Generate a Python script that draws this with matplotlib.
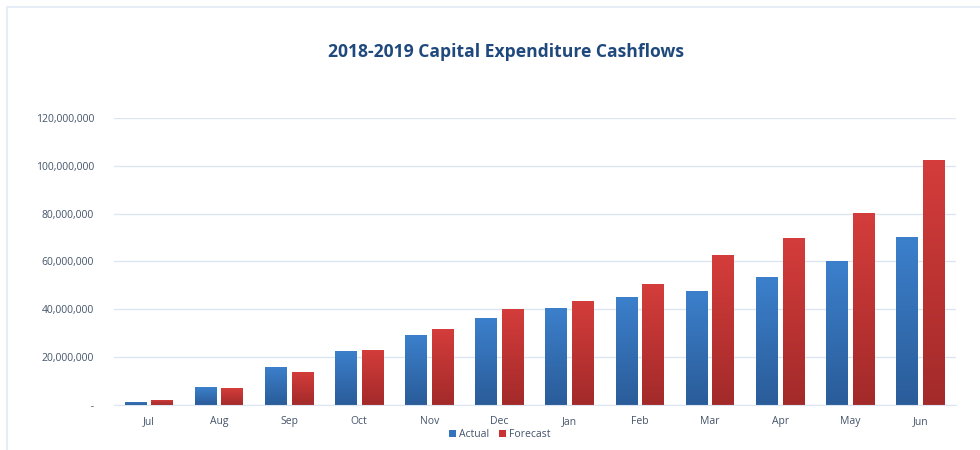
import numpy as np
import matplotlib
matplotlib.use("Agg")
import matplotlib.pyplot as plt
from matplotlib.lines import Line2D
from matplotlib.ticker import FuncFormatter
from matplotlib.colors import LinearSegmentedColormap

# Dados
meses = ["Jul", "Aug", "Sep", "Oct", "Nov", "Dec", "Jan", "Feb", "Mar", "Apr", "May", "Jun"]
actual = [1.4e6, 7.5e6, 15.9e6, 22.6e6, 29.3e6, 36.4e6, 40.6e6, 45.2e6, 47.7e6, 53.6e6, 60.1e6, 70.3e6]
forecast = [2.2e6, 7.1e6, 14.0e6, 23.0e6, 31.8e6, 40.2e6, 43.5e6, 50.6e6, 62.8e6, 69.9e6, 80.1e6, 102.5e6]

plt.rcParams['font.family'] = ['Open Sans', 'DejaVu Sans']

fig = plt.figure(figsize=(9.8, 4.5), dpi=100)
ax = fig.add_axes([0.116, 0.1, 0.859, 0.638])

# moldura do gráfico (só esquerda e topo aparecem)
cor_moldura = "#e6edf6"
fig.lines.append(Line2D([0.0075, 0.0075], [0.0, 0.984], transform=fig.transFigure,
                        color=cor_moldura, linewidth=1.5))
fig.lines.append(Line2D([0.0075, 1.0], [0.984, 0.984], transform=fig.transFigure,
                        color=cor_moldura, linewidth=1.5))

x = np.arange(len(meses))
largura = 0.31
desloc = 0.19

cmap_azul = LinearSegmentedColormap.from_list("azul", ["#2a5c99", "#3c80cc"])
cmap_verm = LinearSegmentedColormap.from_list("verm", ["#a32a2a", "#d43d3b"])

def barras_gradiente(pos, valores, cmap, cor):
    barras = ax.bar(pos, valores, largura, color=cor, zorder=2)
    grad = np.linspace(0, 1, 256).reshape(-1, 1)
    for b in barras:
        x0, y0 = b.get_x(), b.get_y()
        w, h = b.get_width(), b.get_height()
        im = ax.imshow(grad, cmap=cmap, origin="lower", aspect="auto",
                       extent=[x0, x0 + w, y0, y0 + h], zorder=2.5)
        im.set_clip_path(b)
    return barras

b1 = barras_gradiente(x - desloc, actual, cmap_azul, "#3474bd")
b2 = barras_gradiente(x + desloc, forecast, cmap_verm, "#c83434")

ax.set_xlim(-0.5, len(meses) - 0.5)
ax.set_ylim(0, 120e6)
ax.set_yticks(np.arange(0, 120e6 + 1, 20e6))
ax.yaxis.set_major_formatter(FuncFormatter(lambda v, p: " -" if v == 0 else f"{v:,.0f}"))
ax.set_xticks(x)
ax.set_xticklabels(meses)
ax.tick_params(axis="both", length=0, labelsize=7.5, colors="#44546a")
ax.tick_params(axis="y", pad=14)
ax.tick_params(axis="x", pad=8)
ax.grid(axis="y", color="#dce6f2", linewidth=1, zorder=0)
for s in ["top", "right", "left"]:
    ax.spines[s].set_visible(False)
ax.spines["bottom"].set_color("#dce6f2")

fig.suptitle("2018-2019 Capital Expenditure Cashflows", x=0.516, y=0.905,
             fontsize=12.6, fontweight="bold", color="#1f497d")

leg = fig.legend([b1, b2], ["Actual", "Forecast"], loc="center", bbox_to_anchor=(0.51, 0.034),
                 ncol=2, frameon=False, fontsize=7.5, handlelength=0.6, handleheight=0.6,
                 handletextpad=0.3, columnspacing=1.0)
for t in leg.get_texts():
    t.set_color("#44546a")

plt.savefig("out.png", dpi=100)
